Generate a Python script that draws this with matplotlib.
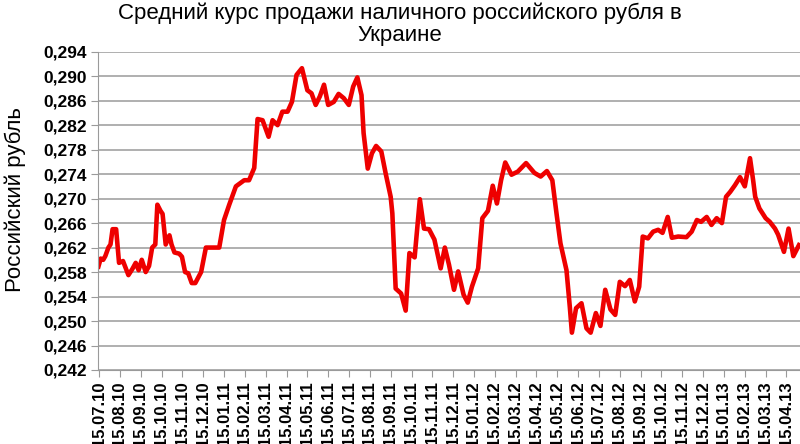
import matplotlib
matplotlib.use('Agg')
import matplotlib.pyplot as plt
import pandas as pd

# месяцы от 15.07.10 (0) и курс
months = [-0.03, 0.08, 0.2, 0.3, 0.45, 0.55, 0.65, 0.82, 0.96, 1.15, 1.41, 1.6, 1.76, 1.9,
          2.05, 2.24, 2.4, 2.55, 2.7, 2.8, 2.95, 3.05, 3.2, 3.38, 3.48, 3.62, 3.85,
          3.98, 4.13, 4.28, 4.45, 4.62, 4.9, 5.13, 5.77, 6.0, 6.25, 6.57, 6.97,
          7.2, 7.45, 7.61, 7.85, 8.14, 8.33, 8.57, 8.8, 9.05, 9.26, 9.48, 9.74,
          10.0, 10.2, 10.4, 10.6, 10.8, 11.0, 11.27, 11.5, 11.75, 11.99, 12.2,
          12.4, 12.6, 12.7, 12.9, 13.1, 13.3, 13.55, 13.76, 14.0, 14.08, 14.24,
          14.5, 14.72, 14.9, 15.15, 15.4, 15.6, 15.84, 16.1, 16.4, 16.6, 16.8,
          17.04, 17.24, 17.5, 17.7, 17.9, 18.2, 18.4, 18.67, 18.9, 19.1, 19.3,
          19.5, 19.8, 20.1, 20.5, 20.9, 21.2, 21.5, 21.76, 21.96, 22.15,
          22.44, 22.6, 22.7, 22.9, 23.16, 23.4, 23.6, 23.85, 24.07, 24.3, 24.55,
          24.78, 25.0, 25.25, 25.48, 25.72, 25.93, 26.1, 26.35, 26.6, 26.84,
          27.05, 27.3, 27.5, 27.8, 28.2, 28.45, 28.7, 28.9, 29.17, 29.4, 29.65,
          29.9, 30.1, 30.3, 30.53, 30.77, 31.0, 31.25, 31.4, 31.5, 31.7, 32.0,
          32.2, 32.45, 32.6, 32.88, 33.1, 33.33, 33.6]
rate = [0.2589, 0.2602, 0.2600, 0.2606, 0.2620, 0.2625, 0.2650, 0.2650, 0.2595,
        0.2598, 0.2575, 0.2585, 0.2595, 0.2583, 0.2600, 0.2580, 0.2590, 0.2620,
        0.2625, 0.2690, 0.2680, 0.2675, 0.2625, 0.2640, 0.2625, 0.2612, 0.2610,
        0.2605, 0.2580, 0.2578, 0.2562, 0.2562, 0.2580, 0.2620, 0.2620, 0.2665,
        0.2690, 0.2720, 0.2730, 0.2730, 0.2750, 0.2830, 0.2828, 0.2801, 0.2828,
        0.2820, 0.2842, 0.2842, 0.2858, 0.2902, 0.2913, 0.2877, 0.2872, 0.2853,
        0.2867, 0.2886, 0.2853, 0.2858, 0.2871, 0.2864, 0.2853, 0.2883, 0.2898,
        0.2869, 0.2807, 0.2749, 0.2774, 0.2786, 0.2777, 0.2741, 0.2703, 0.2676,
        0.2553, 0.2545, 0.2517, 0.2611, 0.2604, 0.2699, 0.2651, 0.2650, 0.2633,
        0.2586, 0.2620, 0.2592, 0.2551, 0.2581, 0.2543, 0.2530, 0.2556, 0.2586,
        0.2668, 0.2680, 0.2721, 0.2692, 0.2730, 0.2759, 0.2739, 0.2744, 0.2758,
        0.2742, 0.2736, 0.2745, 0.2730, 0.2676, 0.2627, 0.2583, 0.2523, 0.2481,
        0.2521, 0.2529, 0.2488, 0.2481, 0.2513, 0.2492, 0.2551, 0.2519, 0.2510,
        0.2564, 0.2557, 0.2567, 0.2532, 0.2556, 0.2638, 0.2635, 0.2646, 0.2649,
        0.2644, 0.2670, 0.2636, 0.2638, 0.2637, 0.2646, 0.2665, 0.2662, 0.2670,
        0.2657, 0.2668, 0.2660, 0.2703, 0.2711, 0.2722, 0.2735, 0.2720, 0.2766,
        0.2730, 0.2703, 0.2684, 0.2668, 0.2662, 0.2651, 0.2641, 0.2613, 0.2651,
        0.2606, 0.2624]

tick_dates = pd.date_range('2010-07-01', '2013-04-01', freq='MS') + pd.Timedelta(days=14)
tick_labels = [d.strftime('%d.%m.%y') for d in tick_dates]
y_ticks = [0.242 + 0.004 * i for i in range(14)]

plt.rcParams['font.family'] = ['Liberation Sans', 'DejaVu Sans']

fig = plt.figure(figsize=(8, 4.44), dpi=100)
ax = fig.add_axes([0.1225, 0.1667, 0.8775, 0.7169])

ax.plot(months, rate, color='#ee0000', lw=3.3, solid_joinstyle='round')

ax.set_xlim(-0.05, 33.65)
ax.set_ylim(0.242, 0.294)
ax.set_yticks(y_ticks)
ax.set_yticklabels([('%.3f' % v).replace('.', ',') for v in y_ticks],
                   fontsize=12.5, fontweight='bold')
ax.set_xticks(range(len(tick_labels)))
ax.set_xticklabels(tick_labels, rotation=90, fontsize=12, fontweight='bold')
ax.grid(axis='y', color='#9a9a9a', lw=1.1)
ax.set_axisbelow(True)
for s in ['top', 'right']:
    ax.spines[s].set_visible(False)
for s in ['left', 'bottom']:
    ax.spines[s].set_color('#9a9a9a')
ax.tick_params(colors='#9a9a9a', length=5, labelcolor='black', pad=3)

ax.set_ylabel('Российский рубль', fontsize=16)
ax.yaxis.set_label_coords(-0.102, 0.535)
fig.text(0.5, 0.995, 'Средний курс продажи наличного российского рубля в\nУкраине',
         ha='center', va='top', fontsize=16, linespacing=1.05)

fig.savefig('out.png', dpi=100)
